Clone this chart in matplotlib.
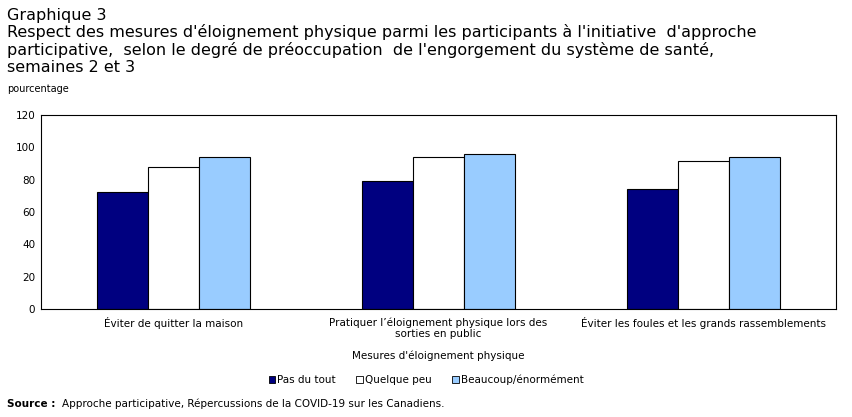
import numpy as np
import matplotlib.pyplot as plt
from matplotlib.patches import Patch

# données
categories = ["Éviter de quitter la maison",
              "Pratiquer l’éloignement physique lors des\nsorties en public",
              "Éviter les foules et les grands rassemblements"]
series = ["Pas du tout", "Quelque peu", "Beaucoup/énormément"]
pas_du_tout = [72.4, 79.2, 74.0]
quelque_peu = [87.6, 94.2, 91.3]
beaucoup = [93.8, 95.7, 94.2]
colors = ["#000080", "#ffffff", "#99ccff"]
yticks = [0, 20, 40, 60, 80, 100, 120]
title_lines = ["Graphique 3",
               "Respect des mesures d'éloignement physique parmi les participants à l'initiative  d'approche",
               "participative,  selon le degré de préoccupation  de l'engorgement du système de santé,",
               "semaines 2 et 3"]

plt.rcParams['font.family'] = ['DejaVu Sans']

fig = plt.figure(figsize=(8.52, 4.17), dpi=100)
ax = fig.add_axes([0.048, 0.259, 0.933, 0.465])

x = np.arange(len(categories))
w = 0.193
for i, (vals, c, lab) in enumerate(zip([pas_du_tout, quelque_peu, beaucoup], colors, series)):
    ax.bar(x + (i - 1) * w, vals, width=w, color=c, edgecolor="black", linewidth=0.8, label=lab)

ax.set_xlim(-0.5, 2.5)
ax.set_ylim(0, 120)
ax.set_yticks(yticks)
ax.set_yticklabels([str(t) for t in yticks], fontsize=7.5)
ax.set_xticks(x)
ax.set_xticklabels(categories, fontsize=7.5)
ax.tick_params(axis="x", length=0, pad=6)
ax.tick_params(axis="y", length=0, pad=4)
for s in ax.spines.values():
    s.set_linewidth(0.8)
ax.set_xlabel("Mesures d'éloignement physique", fontsize=7.5, labelpad=8)

handles = [Patch(facecolor=c, edgecolor="black", linewidth=0.6) for c in colors]
fig.legend(handles, series, loc="center", bbox_to_anchor=(0.5, 1 - 380 / 417), ncol=3,
           frameon=False, fontsize=7.5, handlelength=0.6, handleheight=0.6,
           handletextpad=0.2, columnspacing=2.0)

# titre, une ligne à la fois
for line, base in zip(title_lines, [20, 37.5, 55, 71.5]):
    fig.text(0.008, 1 - base / 417, line, fontsize=11.5, va="baseline")
fig.text(0.008, 1 - 84 / 417, "pourcentage", fontsize=7, va="top")
fig.text(0.008, 1 - 404 / 417, "Source :", fontsize=7.5, fontweight="bold", va="center")
fig.text(0.073, 1 - 404 / 417, "Approche participative, Répercussions de la COVID-19 sur les Canadiens.",
         fontsize=7.5, va="center")

fig.savefig("out.png", dpi=100)
